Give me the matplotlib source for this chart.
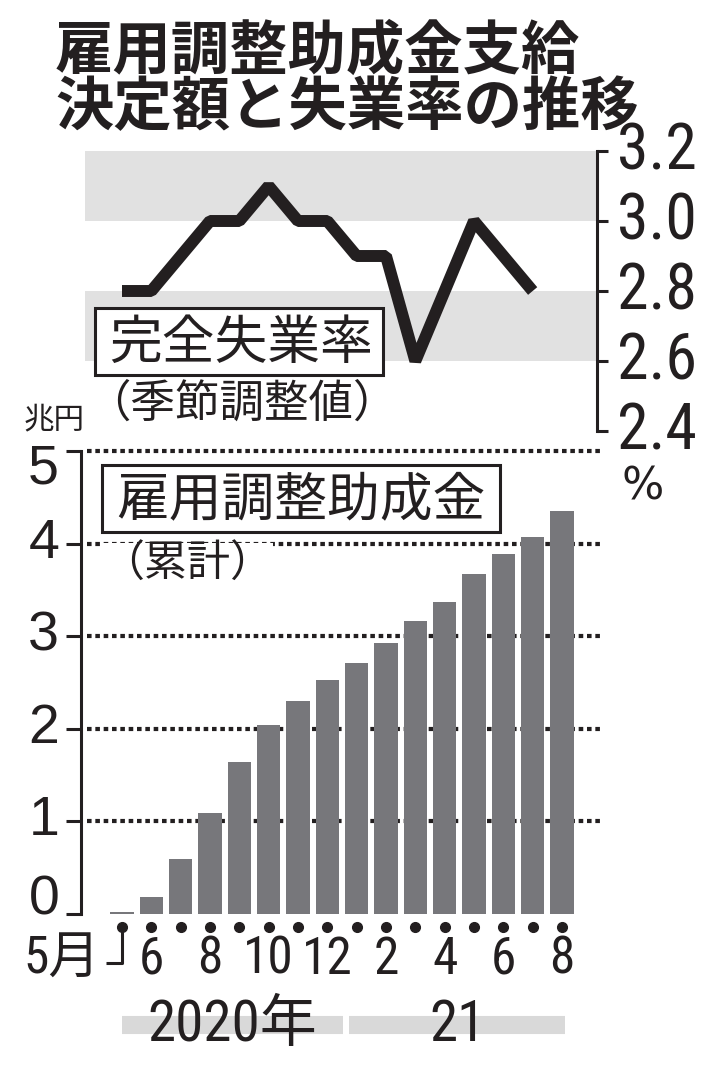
import numpy as np
import matplotlib
matplotlib.use('Agg')
import matplotlib.pyplot as plt
import matplotlib.transforms as mtransforms
from matplotlib import font_manager
from matplotlib.patches import Rectangle

# データ（2020年5月〜2021年8月）
month_idx = np.arange(16)
subsidy = [0.02, 0.18, 0.59, 1.09, 1.64, 2.04, 2.30, 2.53,
           2.71, 2.93, 3.16, 3.37, 3.67, 3.89, 4.07, 4.35]   # 兆円（累計）
unemp = [2.8, 2.8, 2.9, 3.0, 3.0, 3.1, 3.0, 3.0,
         2.9, 2.9, 2.6, 2.8, 3.0, 2.9, 2.8]                   # %（2020年5月〜2021年7月）
tick_pos = [1, 3, 5, 7, 9, 11, 13, 15]
tick_text = ['6', '8', '10', '12', '2', '4', '6', '8']
bar_ticks = [0, 1, 2, 3, 4, 5]
rate_ticks = [2.4, 2.6, 2.8, 3.0, 3.2]
years = ['2020年', '21']
year_spans = [(0, 7.55), (7.75, 15.1)]

# フォント（細長い数字用に Narrow / Condensed を探す）
jp = 'Noto Sans CJK JP'
pref = ['Liberation Sans Narrow', 'Roboto Condensed', 'DejaVu Sans',
        'Open Sans Condensed', 'Noto Sans', 'Open Sans', 'Roboto']
cond = None
for name in pref:
    for f in font_manager.fontManager.ttflist:
        narrowish = ('Narrow' in f.name or 'Condensed' in f.name
                     or f.stretch in ('condensed', 'semi-condensed',
                                      'extra-condensed', 500, 300, 400))
        if f.name == name and narrowish and f.style == 'normal' \
                and f.weight in (400, 'normal', 'regular'):
            cond = f
            break
    if cond is not None:
        break
if cond is not None:
    num = dict(family=[cond.name, jp], stretch=cond.stretch)
    msize, ysize, rsize = 37, 41, 46
else:
    num = dict(family=['Liberation Sans', jp])
    msize, ysize, rsize = 30, 32, 38
plt.rcParams['font.family'] = [jp, 'DejaVu Sans']

W, H = 709, 1071
ink = '#231f20'
fig = plt.figure(figsize=(W / 100, H / 100), dpi=100)


def fx(px):
    return px / W


def fy(py):
    return 1 - py / H


# 横方向の配置（1本目の棒の中心と間隔）
X0 = 122
STEP = 440 / 15

# 棒グラフ（雇用調整助成金）
ax = fig.add_axes([fx(81), fy(914), (600 - 81) / W, (914 - 451) / H])
ax.set_xlim((81 - X0) / STEP, (600 - X0) / STEP)
ax.set_ylim(0, 5)
ax.bar(month_idx, subsidy, width=0.8, color='#77777b', zorder=2)
for v in bar_ticks[1:]:
    ax.axhline(v, xmin=0.012, xmax=1, color=ink, lw=3, ls=(0, (1.1, 0.9)),
               zorder=1, clip_on=False)
for s in ['top', 'right', 'bottom']:
    ax.spines[s].set_visible(False)
ax.spines['left'].set_linewidth(2.2)
ax.spines['left'].set_color(ink)
ax.set_xticks([])
ax.set_yticks(bar_ticks)
ax.set_yticklabels([])
ax.tick_params(axis='y', length=11, width=2.2, color=ink)
ytrans = mtransforms.blended_transform_factory(ax.transAxes, ax.transData)
label_y = [0.15, 1, 2, 3, 4, 4.8]   # 0 と 5 は軸端からずらして置く
for v, yy in zip(bar_ticks, label_y):
    ax.text(-0.042, yy, str(v), transform=ytrans, ha='right', va='center',
            fontsize=40, family='Liberation Sans', color=ink)

trans = mtransforms.blended_transform_factory(ax.transData, ax.transAxes)
ax.plot(month_idx, np.full(16, -0.028), 'o', color=ink, ms=7,
        transform=trans, clip_on=False)
ax.plot([-0.55, 0, 0], [-0.106, -0.106, -0.028], color=ink, lw=2.2,
        transform=trans, clip_on=False, solid_capstyle='butt')
for p, t in zip(tick_pos, tick_text):
    ax.text(p, -0.099, t, transform=trans, ha='center', va='center',
            fontsize=msize, color=ink, **num)
ax.text(-0.75, -0.099, '5月', transform=trans, ha='right', va='center',
        fontsize=msize, color=ink, **num)
for (a, b), t in zip(year_spans, years):
    ax.plot([a, b], [-0.24, -0.24], color='#d9d9d9', lw=13,
            solid_capstyle='butt', transform=trans, clip_on=False, zorder=1)
    ax.text((a + b) / 2, -0.24, t, transform=trans, ha='center', va='center',
            fontsize=ysize, color=ink, zorder=3, **num)

# 折れ線グラフ（完全失業率）
ax2 = fig.add_axes([fx(85), fy(431), 512 / W, 280 / H])
ax2.set_xlim((85 - X0) / STEP, (597 - X0) / STEP)
ax2.set_ylim(2.4, 3.2)
ax2.axhspan(3.0, 3.2, color='#e1e1e1', lw=0, zorder=0)
ax2.axhspan(2.6, 2.8, color='#e1e1e1', lw=0, zorder=0)
ax2.plot(np.arange(len(unemp)), unemp, color=ink, lw=8.6,
         solid_joinstyle='bevel', solid_capstyle='butt', zorder=3)
for s in ['top', 'left', 'bottom']:
    ax2.spines[s].set_visible(False)
ax2.spines['right'].set_linewidth(2.2)
ax2.spines['right'].set_color(ink)
ax2.set_xticks([])
ax2.yaxis.tick_right()
ax2.set_yticks(rate_ticks)
ax2.set_yticklabels([])
ax2.tick_params(axis='y', length=8, width=2.2, color=ink)
rtrans = mtransforms.blended_transform_factory(ax2.transAxes, ax2.transData)
for v in rate_ticks:
    ax2.text(1.04, v, f'{v:.1f}', transform=rtrans, ha='left', va='center',
             fontsize=rsize, color=ink, **num)
ax2.patch.set_alpha(0)

# 見出し・ラベル
fig.text(fx(55), fy(52), '雇用調整助成金支給', fontsize=42, fontweight='bold',
         ha='left', va='center', color=ink)
fig.text(fx(55), fy(108), '決定額と失業率の推移', fontsize=42, fontweight='bold',
         ha='left', va='center', color=ink)

fig.add_artist(Rectangle((fx(95), fy(375)), (383 - 95) / W, (375 - 308) / H,
                         transform=fig.transFigure, facecolor='white',
                         edgecolor=ink, lw=2.2, zorder=5))
fig.text(fx(241), fy(343), '完全失業率', fontsize=38, ha='center', va='center',
         color=ink, zorder=6)
fig.text(fx(242), fy(404), '（季節調整値）', fontsize=32, ha='center',
         va='center', color=ink, zorder=6)

fig.add_artist(Rectangle((fx(102), fy(532)), (500 - 102) / W, (532 - 465) / H,
                         transform=fig.transFigure, facecolor='white',
                         edgecolor=ink, lw=2.2, zorder=5))
fig.text(fx(301), fy(500), '雇用調整助成金', fontsize=38, ha='center',
         va='center', color=ink, zorder=6)
fig.text(fx(187), fy(565), '（累計）', fontsize=31, ha='center', va='center',
         color=ink, zorder=6,
         bbox=dict(facecolor='white', edgecolor='none', pad=0))

fig.text(fx(54), fy(420), '兆円', fontsize=22, ha='center', va='center',
         color=ink)
fig.text(fx(643), fy(487), '%', fontsize=32, family='DejaVu Sans',
         ha='center', va='center', color=ink)

fig.savefig('out.png', dpi=100, facecolor='white')
